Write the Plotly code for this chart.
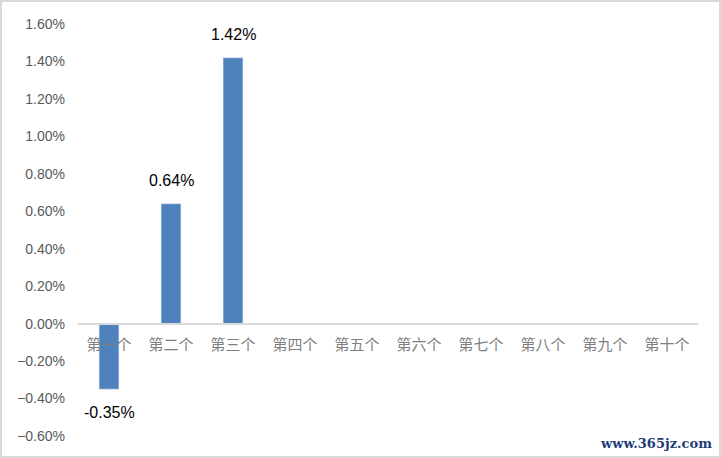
import plotly.graph_objects as go

# categories and values
categories = ['第一个', '第二个', '第三个', '第四个', '第五个',
              '第六个', '第七个', '第八个', '第九个', '第十个']
values = [-0.0035, 0.0064, 0.0142, None, None, None, None, None, None, None]

y_min, y_max = -0.006, 0.016

fig = go.Figure(go.Bar(
    x=categories,
    y=values,
    marker=dict(color='#4f81bd'),
    showlegend=False,
))

# data labels, pushed away from the bar ends like Excel does
for cat, val in zip(categories, values):
    if val is None:
        continue
    fig.add_annotation(x=cat, y=val, text=f'{val * 100:.2f}%',
                       showarrow=False, yanchor='middle',
                       yshift=23 if val >= 0 else -23,
                       font=dict(family='Liberation Sans', size=16, color='#000000'))

fig.update_layout(
    width=721,
    height=458,
    margin=dict(l=78, r=23, t=24, b=22),
    paper_bgcolor='white',
    plot_bgcolor='white',
    bargap=0.68,
    xaxis=dict(
        anchor='free',
        position=(0 - y_min) / (y_max - y_min),
        showline=True,
        linecolor='#d9d9d9',
        linewidth=2,
        showgrid=False,
        ticks='',
        automargin=False,
        tickfont=dict(family='Noto Sans CJK SC', size=15, color='#7f7f7f'),
        ticklabelstandoff=7,
    ),
    yaxis=dict(
        range=[y_min, y_max],
        dtick=0.002,
        tickformat='.2%',
        showgrid=False,
        zeroline=False,
        showline=False,
        automargin=False,
        tickfont=dict(family='Liberation Sans', size=14, color='#595959'),
        ticklabelstandoff=12,
    ),
)

# outer light grey frame like the Excel chart area
fig.add_shape(type='rect', xref='paper', yref='paper',
              x0=-77 / 620, x1=720 / 620 - 78 / 620,
              y0=-21 / 412, y1=435 / 412,
              line=dict(color='#d9d9d9', width=2))

# site watermark
fig.add_annotation(text='<b>www.365jz.com</b>', xref='paper', yref='paper',
                   x=714 / 620 - 78 / 620, y=-7 / 412,
                   xanchor='right', yanchor='middle', showarrow=False,
                   font=dict(family='DejaVu Serif', size=13, color='#1f3c78'))

# drop the default page margin so the chart sits at the window corner
fig.write_html("out.html", config={'displayModeBar': False},
               post_script="document.body.style.margin='0';")
